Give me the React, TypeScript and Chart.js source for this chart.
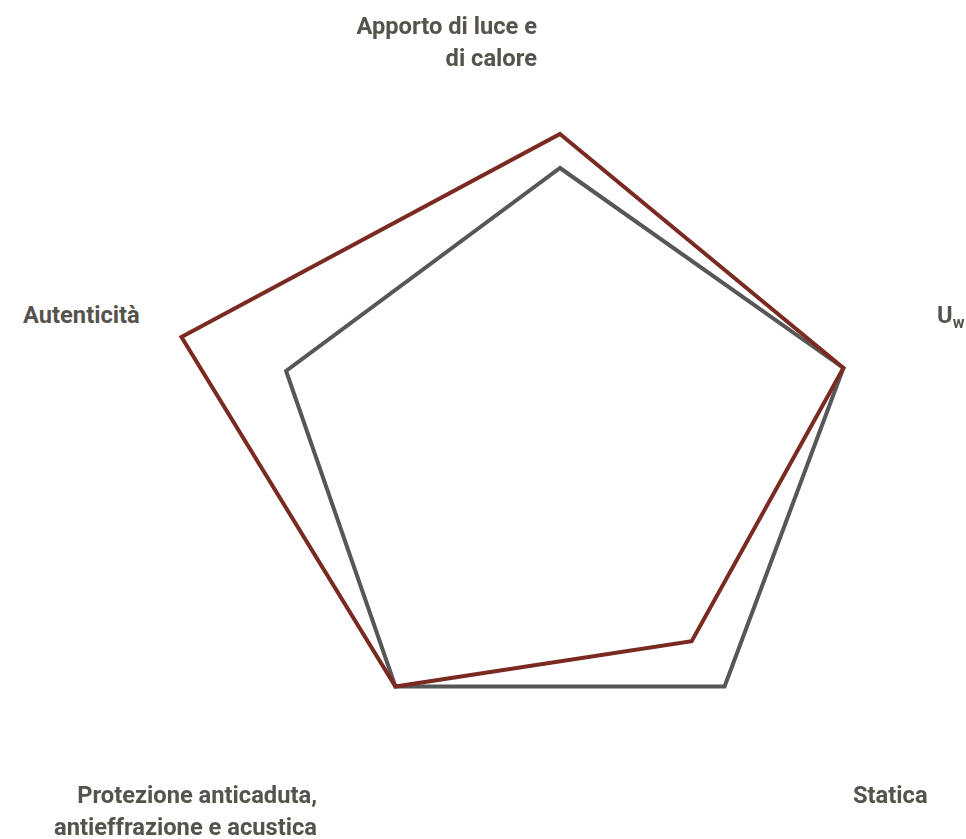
import React, { useEffect, useRef } from "react";
import { Chart, registerables } from "chart.js";

Chart.register(...registerables);

const categories = [
  "Apporto di luce e di calore",
  "Uw",
  "Statica",
  "Protezione anticaduta, antieffrazione e acustica",
  "Autenticità",
];
const seriesRed = [8.15, 7.45, 5.6, 7.0, 9.95];
const seriesGray = [7.3, 7.45, 7.0, 7.0, 7.2];
const scaleMin = 0;
const scaleMax = 10;

const RED = "#7a2a20";
const GRAY = "#575759";
const TEXT = "#56534d";

const labelStyle: React.CSSProperties = {
  position: "absolute",
  fontFamily: "Roboto, sans-serif",
  fontStretch: "90%",
  fontWeight: 700,
  fontSize: 23.7,
  lineHeight: "32px",
  color: TEXT,
  whiteSpace: "nowrap",
};

export default function App() {
  const ref = useRef<HTMLCanvasElement | null>(null);
  useEffect(() => {
    if (!ref.current) return;
    const chart = new Chart(ref.current, {
      type: "radar",
      data: {
        labels: categories,
        datasets: [
          {
            label: "A",
            data: seriesRed,
            borderColor: RED,
            borderWidth: 4,
            fill: false,
            pointRadius: 0,
            pointHoverRadius: 0,
            borderJoinStyle: "miter",
          },
          {
            label: "B",
            data: seriesGray,
            borderColor: GRAY,
            borderWidth: 4,
            fill: false,
            pointRadius: 0,
            pointHoverRadius: 0,
            borderJoinStyle: "miter",
          },
        ],
      },
      options: {
        animation: false,
        responsive: false,
        maintainAspectRatio: false,
        layout: { padding: 0 },
        plugins: { legend: { display: false }, tooltip: { enabled: false } },
        scales: {
          r: {
            min: scaleMin,
            max: scaleMax,
            ticks: { display: false },
            grid: { display: false },
            angleLines: { display: false },
            pointLabels: { display: false },
          },
        },
      },
    });
    return () => chart.destroy();
  }, []);

  return (
    <div
      style={{
        position: "absolute",
        left: 0,
        top: 0,
        width: 966,
        height: 839,
        overflow: "hidden",
        background: "#fff",
      }}
    >
      <canvas
        ref={ref}
        width={800}
        height={800}
        style={{ position: "absolute", left: 160, top: 60, width: 800, height: 800 }}
      />
      <div style={{ ...labelStyle, right: 429, top: 10, textAlign: "right" }}>
        Apporto di luce e
        <br />
        di calore
      </div>
      <div style={{ ...labelStyle, left: 937, top: 299 }}>
        U<sub style={{ fontSize: 16, verticalAlign: "-5px", lineHeight: 0 }}>w</sub>
      </div>
      <div style={{ ...labelStyle, left: 853, top: 779 }}>Statica</div>
      <div style={{ ...labelStyle, right: 649, top: 779, textAlign: "right" }}>
        Protezione anticaduta,
        <br />
        antieffrazione e acustica
      </div>
      <div style={{ ...labelStyle, left: 23, top: 299 }}>Autenticità</div>
    </div>
  );
}
